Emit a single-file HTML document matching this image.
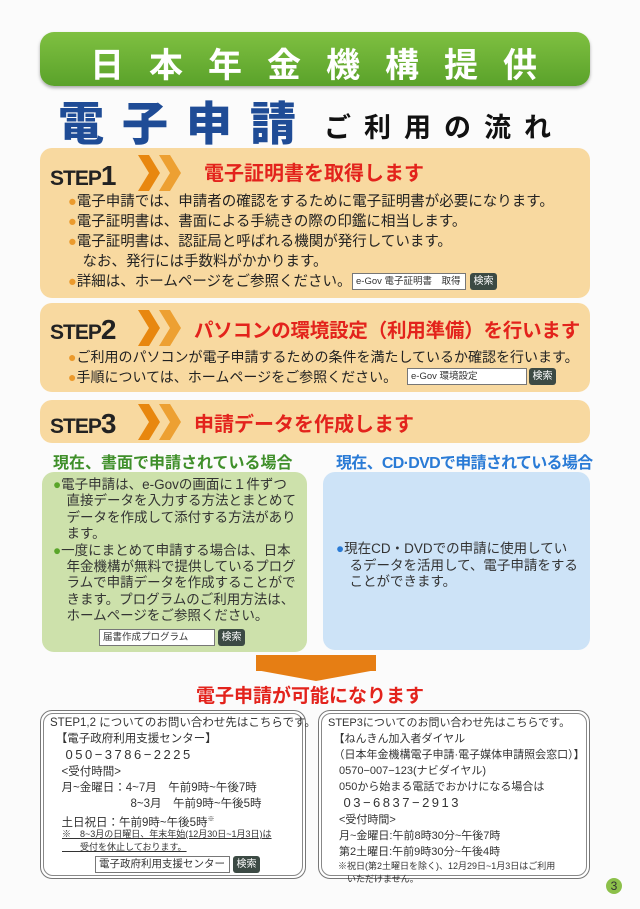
<!DOCTYPE html>
<html><head><meta charset="utf-8"><style>
*{margin:0;padding:0;box-sizing:border-box}
body{width:640px;height:909px;background:#fbfbfb;position:relative;overflow:hidden;font-family:"Liberation Sans","Noto Sans CJK JP",sans-serif;color:#222}
.a{position:absolute;white-space:nowrap}
.box{position:absolute;border-radius:12px}
.step{position:absolute;font-weight:bold;font-size:21px;color:#222;letter-spacing:-1px}
.step b{font-size:28px}
.chev{position:absolute}
.red{color:#e3231c;font-weight:bold}
.bl{font-size:14.5px;line-height:20px}
.dot{color:#eb9a2c}
.sb{position:absolute;height:17px;border:1px solid #777;background:#fff;font-size:9.5px;line-height:15px;padding-left:3px;color:#333;white-space:nowrap;overflow:hidden}
.btn{position:absolute;height:17px;width:27px;background:#3c4a44;border-radius:3px;color:#fff;font-size:10px;line-height:17px;text-align:center}
.in{position:absolute;border:1.5px solid #777;border-radius:12px;background:#fff}
.in:after{content:"";position:absolute;inset:2px;border:1px solid #888;border-radius:10px}
.sm{font-size:11.5px;line-height:16.2px;color:#333}
</style></head><body>
<div class="box" style="left:40px;top:32px;width:550px;height:54px;background:linear-gradient(#7fc041,#5aa22a);border-radius:14px;box-shadow:0 2px 3px #aaa"></div>
<div class="a" style="left:90px;top:38px;color:#fff;font-size:34px;font-weight:bold;letter-spacing:25px">日本年金機構提供</div>
<div class="a" style="left:58px;top:88px;color:#1f4c96;font-size:46px;font-weight:900;letter-spacing:18px">電子申請</div>
<div class="a" style="left:324px;top:106px;color:#111;font-size:27px;font-weight:bold;letter-spacing:13px">ご利用の流れ</div>

<div class="box" style="left:40px;top:148px;width:550px;height:150px;background:#f8d9a0"></div>
<div class="step" style="left:50px;top:160px">STEP<b>1</b></div>
<svg class="chev" style="left:138px;top:155px" width="46" height="36"><polygon points="0,0 11,0 22,18 11,36 0,36 11,18" fill="#e8870f"/><polygon points="21,0 32,0 43,18 32,36 21,36 32,18" fill="#eda032"/></svg>
<div class="a red" style="left:204px;top:157px;font-size:20px">電子証明書を取得します</div>
<div class="a bl" style="left:68px;top:192px"><span class="dot">●</span>電子申請では、申請者の確認をするために電子証明書が必要になります。<br><span class="dot">●</span>電子証明書は、書面による手続きの際の印鑑に相当します。<br><span class="dot">●</span>電子証明書は、認証局と呼ばれる機関が発行しています。<br>　なお、発行には手数料がかかります。<br><span class="dot">●</span>詳細は、ホームページをご参照ください。</div>
<div class="sb" style="left:352px;top:273px;width:114px">e-Gov 電子証明書　取得</div><div class="btn" style="left:470px;top:273px">検索</div>

<div class="box" style="left:40px;top:303px;width:550px;height:89px;background:#f8d9a0"></div>
<div class="step" style="left:50px;top:314px">STEP<b>2</b></div>
<svg class="chev" style="left:138px;top:310px" width="46" height="36"><polygon points="0,0 11,0 22,18 11,36 0,36 11,18" fill="#e8870f"/><polygon points="21,0 32,0 43,18 32,36 21,36 32,18" fill="#eda032"/></svg>
<div class="a red" style="left:194px;top:314px;font-size:19.5px;letter-spacing:-0.2px">パソコンの環境設定（利用準備）を行います</div>
<div class="a bl" style="left:68px;top:347px;font-size:14px"><span class="dot">●</span>ご利用のパソコンが電子申請するための条件を満たしているか確認を行います。<br><span class="dot">●</span>手順については、ホームページをご参照ください。</div>
<div class="sb" style="left:407px;top:368px;width:120px">e-Gov 環境設定</div><div class="btn" style="left:529px;top:368px">検索</div>

<div class="box" style="left:40px;top:400px;width:550px;height:43px;background:#f8d9a0"></div>
<div class="step" style="left:50px;top:408px">STEP<b>3</b></div>
<svg class="chev" style="left:138px;top:404px" width="46" height="36"><polygon points="0,0 11,0 22,18 11,36 0,36 11,18" fill="#e8870f"/><polygon points="21,0 32,0 43,18 32,36 21,36 32,18" fill="#eda032"/></svg>
<div class="a red" style="left:194px;top:408px;font-size:20px">申請データを作成します</div>

<div class="a" style="left:53px;top:449px;color:#3f8f2a;font-weight:bold;font-size:16px">現在、書面で申請されている場合</div>
<div class="a" style="left:336px;top:449px;color:#2a7bd6;font-weight:bold;font-size:16px;letter-spacing:-0.7px">現在、CD·DVDで申請されている場合</div>
<div class="box" style="left:42px;top:472px;width:265px;height:180px;background:#cde1ab"></div>
<div class="box" style="left:323px;top:472px;width:267px;height:178px;background:#cde3f7"></div>
<div class="a" style="left:53px;top:477px;font-size:13.5px;line-height:16.4px;color:#333"><span style="color:#5aa52a">●</span>電子申請は、e-Govの画面に１件ずつ<br>　直接データを入力する方法とまとめて<br>　データを作成して添付する方法があり<br>　ます。<br><span style="color:#5aa52a">●</span>一度にまとめて申請する場合は、日本<br>　年金機構が無料で提供しているプログ<br>　ラムで申請データを作成することがで<br>　きます。プログラムのご利用方法は、<br>　ホームページをご参照ください。</div>
<div class="sb" style="left:99px;top:629px;width:116px">届書作成プログラム</div><div class="btn" style="left:218px;top:629px">検索</div>
<div class="a" style="left:336px;top:541px;font-size:13.5px;line-height:16.6px;color:#333"><span style="color:#2a7bd6">●</span>現在CD・DVDでの申請に使用してい<br>　るデータを活用して、電子申請をする<br>　ことができます。</div>

<div class="a" style="left:256px;top:655px;width:120px;height:16px;background:#e67e14"></div>
<svg class="a" style="left:256px;top:670px" width="120" height="12"><polygon points="0,0 120,0 60,11" fill="#e67e14"/></svg>
<div class="a red" style="left:196px;top:681px;font-size:19px">電子申請が可能になります</div>

<div class="in" style="left:40px;top:710px;width:266px;height:169px"></div>
<div class="in" style="left:318px;top:710px;width:272px;height:169px"></div>
<div class="a sm" style="left:50px;top:715px;line-height:16px">STEP1,2 についてのお問い合わせ先はこちらです。<br>　【電子政府利用支援センター】<br><span style="font-size:13px;letter-spacing:2.5px">　050−3786−2225</span><br>　&lt;受付時間&gt;<br>　月~金曜日：4~7月　午前9時~午後7時<br>　　　　　　　8~3月　午前9時~午後5時<br>　土日祝日：午前9時~午後5時<sup style="font-size:7px">※</sup></div>
<div class="a" style="left:62px;top:828px;font-size:9px;line-height:13px;color:#333;text-decoration:underline">※　8~3月の日曜日、年末年始(12月30日~1月3日)は<br>　　受付を休止しております。</div>
<div class="sb" style="left:95px;top:856px;width:135px;font-size:10.5px">電子政府利用支援センター</div><div class="btn" style="left:233px;top:856px">検索</div>
<div class="a sm" style="left:328px;top:715px;line-height:16px;font-size:11px">STEP3についてのお問い合わせ先はこちらです。<br>　【ねんきん加入者ダイヤル<br>　（日本年金機構電子申請·電子媒体申請照会窓口）】<br>　0570−007−123(ナビダイヤル)<br>　050から始まる電話でおかけになる場合は<br><span style="font-size:13px;letter-spacing:2.5px">　03−6837−2913</span><br>　&lt;受付時間&gt;<br>　月~金曜日:午前8時30分~午後7時<br>　第2土曜日:午前9時30分~午後4時</div>
<div class="a" style="left:338px;top:860px;font-size:9px;line-height:13px;color:#333">※祝日(第2土曜日を除く)、12月29日~1月3日はご利用<br>　いただけません。</div>
<div class="a" style="left:606px;top:878px;width:16px;height:16px;border-radius:50%;background:#8cc04a;color:#333;font-size:12px;text-align:center;line-height:16px">3</div>
</body></html>
